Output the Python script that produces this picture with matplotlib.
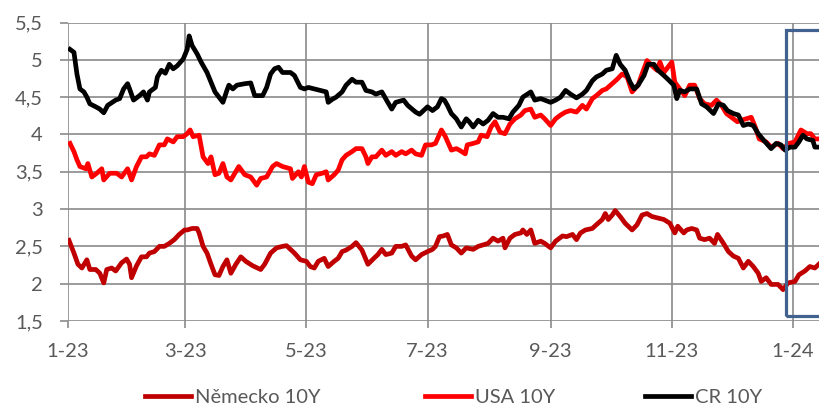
import numpy as np
import pandas as pd
import matplotlib
matplotlib.use("Agg")
import matplotlib.pyplot as plt
import matplotlib.dates as mdates
from matplotlib.patches import Rectangle
from matplotlib.ticker import FuncFormatter

plt.rcParams['font.family'] = ['Lato', 'DejaVu Sans']

# day offsets from 1 Jan 2023 and 10Y yields (%)
de_days = [0.5, 3, 5, 7, 9.5, 11, 14, 16, 18, 19.5, 22, 24, 27, 29.5, 31, 32, 34.5, 37, 39.5, 41,
           43.5, 46, 48.5, 51, 53.5, 56, 58.7, 60, 62.5, 65, 66, 68, 70, 72, 74, 76, 78, 80, 82, 84.5,
           87, 89.5, 93, 97, 99, 102, 105, 108, 110, 112, 114, 117, 120, 122, 124, 126, 129, 131, 134, 136,
           138, 140, 143, 145, 148, 151, 154, 156, 158, 160, 163, 165, 168, 170, 173, 175, 178, 181, 183.5, 185,
           187, 189, 191, 193, 195.5, 198, 200.5, 204, 206.5, 209, 211.5, 214, 216.5, 219, 220, 222.5, 225, 228, 229, 231,
           233, 235, 238, 240, 243, 245.5, 249, 251, 254, 256, 258, 260.5, 264, 266, 269, 270.5, 272, 274, 275.5, 278,
           280.5, 284, 286.5, 289, 291.5, 294, 297, 300, 303, 305.5, 307, 310, 311.5, 314, 316.5, 318, 320.5, 323, 325.5, 327,
           330, 332.5, 335, 337.5, 340, 342.5, 345, 347.5, 349, 351.5, 354, 357.5, 360, 362.5, 366, 368, 371, 373.5, 376, 378]
de_vals = [2.58, 2.41, 2.26, 2.21, 2.32, 2.19, 2.19, 2.14, 2.01, 2.19, 2.21, 2.17, 2.28, 2.33, 2.26, 2.08, 2.24, 2.36, 2.36, 2.41,
           2.43, 2.50, 2.50, 2.54, 2.59, 2.66, 2.72, 2.72, 2.74, 2.74, 2.68, 2.50, 2.41, 2.26, 2.12, 2.11, 2.23, 2.32, 2.14, 2.26,
           2.36, 2.30, 2.24, 2.19, 2.26, 2.41, 2.48, 2.50, 2.51, 2.46, 2.41, 2.32, 2.30, 2.23, 2.21, 2.30, 2.34, 2.23, 2.30, 2.34,
           2.43, 2.45, 2.50, 2.55, 2.45, 2.26, 2.34, 2.39, 2.46, 2.39, 2.41, 2.50, 2.50, 2.52, 2.37, 2.32, 2.39, 2.43, 2.46, 2.50,
           2.63, 2.64, 2.66, 2.52, 2.48, 2.41, 2.48, 2.46, 2.50, 2.52, 2.54, 2.61, 2.57, 2.61, 2.48, 2.61, 2.66, 2.68, 2.72, 2.66,
           2.72, 2.54, 2.57, 2.54, 2.48, 2.57, 2.64, 2.63, 2.66, 2.59, 2.68, 2.72, 2.74, 2.79, 2.86, 2.94, 2.86, 2.92, 2.98, 2.90,
           2.81, 2.72, 2.79, 2.92, 2.94, 2.90, 2.88, 2.86, 2.81, 2.68, 2.77, 2.68, 2.72, 2.74, 2.72, 2.61, 2.59, 2.61, 2.54, 2.66,
           2.54, 2.43, 2.37, 2.34, 2.21, 2.30, 2.23, 2.14, 2.03, 2.08, 1.99, 1.99, 1.92, 2.01, 2.03, 2.12, 2.17, 2.23, 2.21, 2.26]

us_days = [1, 3, 4.5, 6, 9, 10, 12, 14.5, 17, 18, 21, 24.5, 27, 30, 32, 34.5, 37, 39.5, 41, 43.5,
           46, 48.5, 50, 53, 55, 58, 60, 61.5, 63, 66, 68, 70.5, 72, 74, 76, 78, 80, 82, 84, 86,
           89, 92, 95, 97, 100, 103, 105, 108, 112, 113, 116, 117.5, 119, 121, 123, 125, 128, 130, 131, 134,
           136, 138, 140, 143, 145, 148, 150, 151, 153, 155, 158, 160, 163, 165, 168, 170, 173, 175, 178, 180,
           183, 185, 188, 190, 193, 195.5, 197, 200, 201, 204, 206.5, 208, 211, 213, 215, 217.5, 220, 222.5, 225, 228,
           230, 233, 235, 238, 240, 243, 245.5, 248, 250.5, 253, 256, 259, 261, 264, 266, 269, 271, 274, 276.5, 279,
           281.5, 284, 287, 289, 291.5, 294, 296.5, 298, 300, 302, 304, 305.5, 308, 310.5, 313, 315.5, 318, 320.5, 324, 326.5,
           329, 331.5, 334, 337, 339, 341.5, 344, 346, 348, 351.5, 354, 357.5, 360, 363, 366, 369, 372, 374, 376, 378]
us_vals = [3.88, 3.77, 3.66, 3.57, 3.54, 3.61, 3.43, 3.48, 3.54, 3.39, 3.48, 3.48, 3.43, 3.54, 3.39, 3.57, 3.70, 3.70, 3.74, 3.72,
           3.86, 3.86, 3.94, 3.90, 3.97, 3.97, 4.01, 4.06, 3.97, 3.99, 3.70, 3.61, 3.70, 3.46, 3.48, 3.61, 3.43, 3.39, 3.48, 3.57,
           3.46, 3.43, 3.32, 3.41, 3.43, 3.57, 3.61, 3.57, 3.54, 3.41, 3.50, 3.43, 3.57, 3.36, 3.34, 3.46, 3.48, 3.50, 3.39, 3.46,
           3.52, 3.66, 3.72, 3.77, 3.81, 3.81, 3.70, 3.61, 3.70, 3.70, 3.79, 3.72, 3.77, 3.72, 3.77, 3.74, 3.79, 3.74, 3.72, 3.86,
           3.86, 3.88, 4.06, 3.97, 3.79, 3.81, 3.79, 3.74, 3.86, 3.88, 3.90, 3.99, 3.97, 4.10, 4.17, 4.03, 4.01, 4.14, 4.21, 4.26,
           4.32, 4.34, 4.23, 4.26, 4.21, 4.12, 4.21, 4.26, 4.30, 4.32, 4.30, 4.39, 4.34, 4.48, 4.52, 4.59, 4.61, 4.68, 4.74, 4.81,
           4.77, 4.57, 4.66, 4.81, 4.99, 4.92, 4.86, 4.97, 4.83, 4.90, 4.97, 4.70, 4.61, 4.52, 4.66, 4.66, 4.48, 4.41, 4.39, 4.46,
           4.39, 4.28, 4.23, 4.17, 4.19, 4.21, 4.23, 4.10, 3.94, 3.90, 3.83, 3.88, 3.81, 3.88, 3.90, 4.06, 4.01, 4.01, 3.94, 3.94]

cz_days = [1, 3, 4.5, 6, 8, 9.5, 11, 14, 16, 18, 20, 24, 26, 28, 30, 31, 33, 36, 38, 40,
           41, 44, 45, 47, 49, 51, 53, 55, 58, 60, 61, 62.5, 65, 67, 70, 72, 74, 76, 78, 80,
           81, 83, 85, 89, 92, 94, 98, 100, 102, 104, 106, 108, 112, 114, 117, 119, 121, 124, 127, 130,
           131, 133, 135, 138, 140, 143, 145, 148, 150, 153, 155, 158, 161, 163, 165, 169, 171, 175, 177, 181,
           183.5, 186, 188, 189.5, 191, 193, 195.5, 198, 200.5, 202, 204, 206.5, 209, 211.5, 214, 216.5, 219, 222, 224, 227,
           229, 233, 235, 238, 240, 243, 245.5, 248, 250.5, 253, 256, 259, 261, 264, 266, 269, 271, 274, 276, 278,
           280.5, 283, 285, 287, 290, 292, 295, 297, 300, 302, 305, 306.5, 308, 310.5, 313, 316.5, 319, 321.5, 325, 327.5,
           330, 332, 335, 337.5, 340, 342.5, 345, 347.5, 351, 354, 356.5, 359, 361, 363.5, 366, 368, 370, 372, 375, 376, 378]
cz_vals = [5.14, 5.10, 4.81, 4.61, 4.57, 4.50, 4.41, 4.37, 4.34, 4.29, 4.39, 4.46, 4.48, 4.61, 4.68, 4.61, 4.46, 4.52, 4.57, 4.46,
           4.57, 4.63, 4.77, 4.86, 4.82, 4.94, 4.88, 4.92, 5.01, 5.14, 5.32, 5.19, 5.08, 4.97, 4.83, 4.70, 4.57, 4.50, 4.43, 4.59,
           4.66, 4.61, 4.66, 4.68, 4.69, 4.52, 4.52, 4.63, 4.81, 4.88, 4.90, 4.83, 4.83, 4.79, 4.63, 4.61, 4.63, 4.61, 4.59, 4.57,
           4.43, 4.47, 4.50, 4.57, 4.66, 4.74, 4.70, 4.70, 4.59, 4.57, 4.54, 4.57, 4.43, 4.34, 4.43, 4.46, 4.39, 4.30, 4.27, 4.37,
           4.32, 4.37, 4.48, 4.46, 4.39, 4.28, 4.21, 4.10, 4.21, 4.17, 4.10, 4.19, 4.14, 4.19, 4.28, 4.23, 4.23, 4.21, 4.30, 4.39,
           4.50, 4.57, 4.46, 4.48, 4.46, 4.43, 4.46, 4.50, 4.59, 4.54, 4.49, 4.54, 4.59, 4.72, 4.77, 4.81, 4.86, 4.88, 5.06, 4.94,
           4.86, 4.70, 4.61, 4.66, 4.79, 4.94, 4.94, 4.86, 4.79, 4.74, 4.66, 4.48, 4.59, 4.57, 4.61, 4.61, 4.41, 4.37, 4.28, 4.41,
           4.39, 4.32, 4.28, 4.26, 4.12, 4.14, 4.12, 4.01, 3.90, 3.81, 3.88, 3.86, 3.79, 3.83, 3.83, 3.90, 3.99, 3.94, 3.92, 3.83, 3.83]

series_labels = ['Německo 10Y', 'USA 10Y', 'CR 10Y']
series_colors = ['#C00000', '#FF0000', '#000000']

start = pd.Timestamp('2023-01-01')


def to_dates(days):
    return start + pd.to_timedelta(np.array(days), unit='D')


grid_col = '#8A8A8A'
text_col = '#595959'

fig = plt.figure(figsize=(8.2, 4.07), dpi=100)
ax = fig.add_axes([68 / 820, 1 - 321 / 407, 752 / 820, 298.5 / 407])

lines = []
for d, v, lab, col in zip([de_days, us_days, cz_days], [de_vals, us_vals, cz_vals],
                          series_labels, series_colors):
    ln, = ax.plot(to_dates(d), v, color=col, lw=3.4, solid_joinstyle='round', label=lab)
    lines.append(ln)

ax.set_ylim(1.5, 5.5)
ax.set_xlim(start, start + pd.Timedelta(days=378.6))
ax.set_yticks(np.arange(1.5, 5.51, 0.5))
ax.yaxis.set_major_formatter(FuncFormatter(lambda y, _: f'{y:g}'.replace('.', ',')))
ax.xaxis.set_major_locator(mdates.MonthLocator(bymonth=[1, 3, 5, 7, 9, 11]))
ax.xaxis.set_major_formatter(FuncFormatter(
    lambda x, _: f'{mdates.num2date(x).month}-{mdates.num2date(x).strftime("%y")}'))

ax.grid(True, color=grid_col, lw=1.2)
ax.set_axisbelow(True)
for s in ax.spines.values():
    s.set_visible(False)
ax.tick_params(axis='x', length=5, width=1.2, color=grid_col, labelcolor=text_col,
               labelsize=14.5, pad=11)
ax.tick_params(axis='y', length=6, width=1.2, color=grid_col, labelcolor=text_col,
               labelsize=14.5, pad=12)

# highlight box over the start of 2024
box = Rectangle((mdates.date2num(start + pd.Timedelta(days=361.5)), 1.573), 40, 5.40 - 1.573,
                fill=False, edgecolor='#41628F', lw=2.3, zorder=5, clip_on=False)
ax.add_patch(box)

legend_x = [145, 425, 645]
for ln, lx in zip(lines, legend_x):
    fig.legend(handles=[ln], loc='center left', bbox_to_anchor=(lx / 820, 1 - 397 / 407),
               frameon=False, fontsize=14.5, labelcolor=text_col, handlelength=2.3,
               handletextpad=0.2, borderpad=0, borderaxespad=0)

fig.savefig('out.png', dpi=100)
